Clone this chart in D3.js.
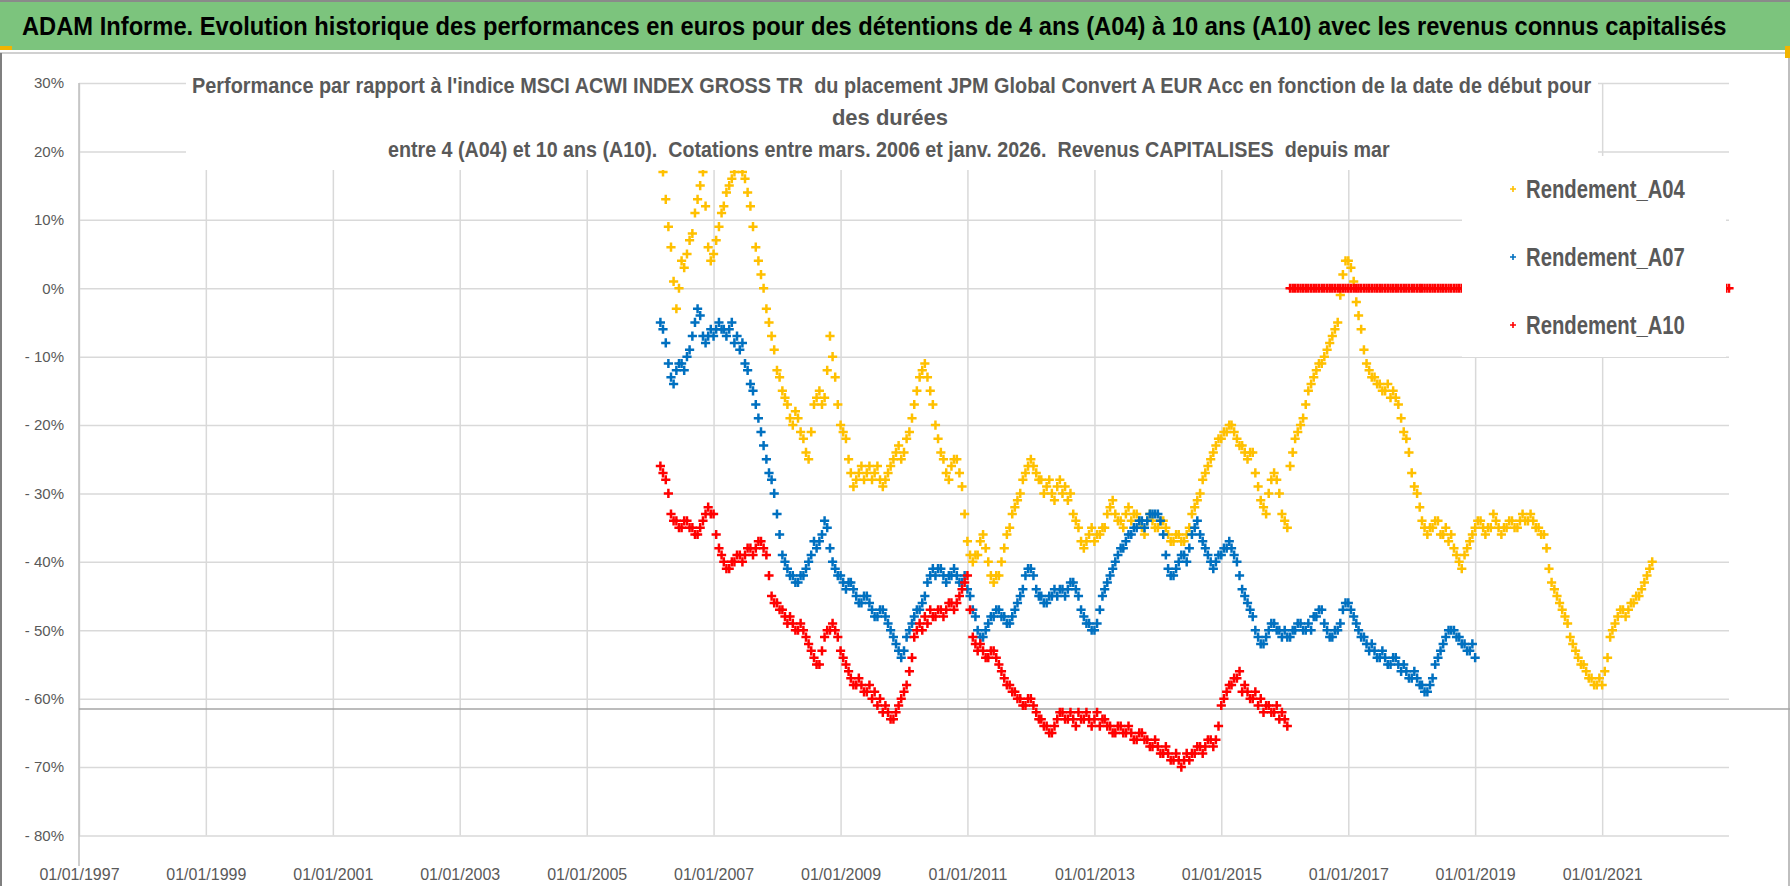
<!DOCTYPE html>
<html>
<head>
<meta charset="utf-8">
<script src="https://cdn.jsdelivr.net/npm/d3@7"></script>
<style>
  body { margin: 0; background: #ffffff; overflow: hidden; }
  svg { display: block; }
</style>
</head>
<body>
<div id="vis"></div>
<script>
// dimensions of the frame
const FRAME_WIDTH = 1790;
const FRAME_HEIGHT = 886;

// plot area inside the frame
const MARGINS = {left: 79, right: 61, top: 83, bottom: 50};
const VIS_WIDTH = FRAME_WIDTH - MARGINS.left - MARGINS.right;
const VIS_HEIGHT = 835.5 - MARGINS.top;

// texts
const HEADER = "ADAM Informe. Evolution historique des performances en euros pour des détentions de 4 ans (A04) à 10 ans (A10) avec les revenus connus capitalisés";
const TITLE_LINES = [
  "Performance par rapport à l'indice MSCI ACWI INDEX GROSS TR  du placement JPM Global Convert A EUR Acc en fonction de la date de début pour",
  "des durées",
  "entre 4 (A04) et 10 ans (A10).  Cotations entre mars. 2006 et janv. 2026.  Revenus CAPITALISES  depuis mar"
];
const SERIES_NAMES = ["Rendement_A04", "Rendement_A07", "Rendement_A10"];
const SERIES_COLORS = ["#FFC000", "#0070C0", "#FF0000"];

// axis ticks
const Y_TICKS = [30, 20, 10, 0, -10, -20, -30, -40, -50, -60, -70, -80];
const X_TICK_YEARS = [1997, 1999, 2001, 2003, 2005, 2007, 2009, 2011, 2013, 2015, 2017, 2019, 2021];

// values (%), two per month (1st and 16th),
// first month given by *_START, one row per year
const A04_START = "2006-03";
const A04 = [
  22, 17, 13, 9, 6, 1, -3, 0, 4, 3, 5, 7, 8, 11, 13, 15, 17, 12, 6, 4,
  5, 7, 9, 11, 12, 14, 15, 16, 17, 18, 19, 17, 16, 14, 12, 9, 6, 4, 2, 0, -3, -5, -7, -9,
  -12, -13, -15, -16, -17, -19, -20, -18, -19, -21, -22, -24, -25, -21, -17, -16, -15, -17, -16, -12, -7, -10, -13, -17,
  -20, -21, -22, -25, -27, -29, -28, -27, -26, -28, -27, -26, -28, -27, -26, -28, -29, -28, -27, -26, -25, -24, -23, -25,
  -24, -22, -21, -19, -17, -15, -13, -12, -11, -13, -15, -17, -20, -22, -24, -25, -27, -28, -26, -25, -25, -27, -29, -33,
  -37, -39, -40, -39, -39, -37, -36, -38, -40, -42, -43, -42, -42, -40, -38, -36, -35, -33, -32, -31, -30, -28, -27, -26,
  -25, -26, -27, -28, -28, -30, -29, -28, -30, -31, -29, -28, -30, -29, -31, -30, -33, -34, -35, -37, -38, -37, -36, -35,
  -37, -36, -36, -35, -35, -33, -32, -31, -33, -34, -34, -35, -33, -32, -34, -33, -33, -34, -35, -36, -34, -33, -34, -35,
  -35, -34, -34, -35, -36, -37, -37, -36, -36, -37, -37, -36, -35, -33, -32, -31, -30, -28, -27, -26, -25, -24, -23, -22,
  -22, -21, -21, -20, -20, -21, -22, -23, -23, -24, -25, -24, -24, -27, -29, -31, -32, -33, -30, -28, -27, -28, -30, -33,
  -34, -35, -26, -24, -22, -21, -20, -19, -17, -15, -14, -13, -12, -11, -11, -10, -9, -8, -7, -6, -5, -1, 2, 4,
  4, 3, 1, -2, -4, -6, -9, -11, -12, -13, -13, -14, -14, -15, -15, -14, -16, -15, -16, -17, -19, -21, -22, -24,
  -27, -29, -30, -32, -34, -35, -36, -35, -35, -34, -34, -36, -36, -35, -37, -36, -38, -39, -40, -41, -39, -38, -37, -36,
  -35, -34, -34, -35, -36, -35, -35, -33, -34, -35, -36, -35, -35, -34, -34, -35, -35, -34, -33, -34, -34, -33, -34, -35,
  -35, -36, -36, -38, -41, -43, -44, -45, -46, -47, -48, -49, -51, -52, -53, -54, -55, -55, -56, -57, -57, -58, -58, -57,
  -58, -56, -54, -51, -50, -49, -48, -47, -47, -48, -47, -46, -46, -45, -45, -44, -43, -42, -41, -40
];

const A07_START = "2006-03";
const A07 = [
  -5, -6, -8, -11, -13, -14, -12, -11, -11, -12, -10, -9, -7, -5, -3, -4, -7, -8, -7, -6,
  -7, -6, -5, -6, -6, -7, -6, -5, -8, -7, -9, -8, -11, -12, -14, -15, -17, -19, -21, -23, -25, -27, -28, -30,
  -33, -36, -39, -40, -41, -42, -42, -43, -43, -42, -42, -41, -40, -39, -37, -38, -37, -36, -34, -35, -38, -40, -41, -42,
  -42, -43, -44, -43, -43, -44, -45, -46, -46, -45, -45, -46, -47, -48, -48, -47, -47, -48, -49, -50, -51, -52, -53, -54,
  -53, -51, -50, -49, -48, -47, -47, -46, -45, -43, -42, -41, -42, -41, -41, -42, -43, -42, -42, -41, -42, -43, -43, -42,
  -44, -45, -47, -48, -50, -51, -51, -50, -49, -48, -48, -47, -47, -48, -48, -49, -49, -48, -47, -46, -45, -44, -42, -41,
  -41, -42, -44, -45, -45, -46, -46, -45, -45, -44, -45, -44, -44, -45, -44, -43, -43, -44, -45, -47, -48, -49, -49, -50,
  -50, -49, -47, -45, -44, -43, -42, -41, -40, -39, -38, -38, -37, -36, -36, -35, -35, -34, -34, -35, -34, -33, -33, -33,
  -33, -34, -36, -39, -41, -42, -42, -41, -40, -39, -39, -40, -38, -36, -35, -34, -36, -37, -38, -39, -40, -41, -40, -39,
  -39, -38, -38, -37, -38, -39, -40, -42, -44, -45, -46, -47, -48, -50, -51, -52, -52, -51, -50, -49, -49, -50, -50, -51,
  -50, -51, -51, -50, -50, -49, -49, -50, -50, -49, -50, -48, -48, -47, -47, -49, -50, -51, -51, -50, -50, -49, -47, -46,
  -46, -47, -48, -49, -50, -51, -51, -52, -53, -52, -53, -54, -54, -53, -54, -55, -55, -54, -54, -55, -56, -55, -56, -57,
  -57, -56, -57, -58, -58, -59, -59, -58, -57, -55, -54, -53, -52, -51, -50, -50, -50, -51, -51, -52, -52, -53, -53, -52,
  -54
];

const A10_START = "2006-03";
const A10 = [
  -26, -27, -28, -30, -33, -34, -34, -35, -35, -34, -34, -35, -35, -36, -36, -35, -34, -33, -32, -33,
  -33, -36, -38, -39, -40, -41, -41, -40, -40, -39, -39, -40, -39, -38, -38, -39, -38, -37, -37, -38, -39, -42, -45, -46,
  -46, -47, -47, -48, -49, -48, -49, -50, -50, -49, -50, -51, -52, -53, -54, -55, -55, -53, -51, -50, -50, -49, -50, -51,
  -53, -54, -55, -56, -57, -58, -58, -57, -58, -59, -59, -58, -60, -59, -61, -60, -62, -61, -62, -63, -63, -62, -61, -60,
  -59, -58, -56, -54, -51, -50, -49, -50, -48, -49, -47, -48, -48, -47, -47, -48, -47, -46, -46, -47, -46, -45, -44, -43,
  -42, -47, -51, -52, -53, -52, -53, -54, -54, -53, -53, -54, -55, -56, -57, -58, -58, -59, -59, -60, -60, -61, -61, -60,
  -60, -61, -62, -63, -63, -64, -64, -65, -65, -64, -63, -62, -62, -63, -63, -62, -63, -64, -62, -63, -63, -62, -63, -64,
  -63, -62, -64, -63, -63, -64, -64, -65, -65, -64, -64, -65, -65, -64, -65, -66, -66, -65, -65, -66, -66, -67, -67, -66,
  -67, -68, -68, -67, -68, -69, -69, -68, -69, -70, -69, -68, -69, -68, -68, -67, -67, -68, -67, -66, -66, -67, -66, -64,
  -61, -60, -59, -58, -58, -57, -57, -56, -59, -58, -59, -60, -60, -59, -61, -60, -62, -61, -61, -62, -62, -61, -63, -62,
  -63, -64,
  // no 10-year return after Jan. 2016: plotted at 0 up to Jan. 2023
  0, 0, 0, 0, 0, 0, 0, 0, 0, 0, 0, 0, 0, 0, 0, 0, 0, 0, 0, 0, 0, 0,
  0, 0, 0, 0, 0, 0, 0, 0, 0, 0, 0, 0, 0, 0, 0, 0, 0, 0, 0, 0, 0, 0, 0, 0,
  0, 0, 0, 0, 0, 0, 0, 0, 0, 0, 0, 0, 0, 0, 0, 0, 0, 0, 0, 0, 0, 0, 0, 0,
  0, 0, 0, 0, 0, 0, 0, 0, 0, 0, 0, 0, 0, 0, 0, 0, 0, 0, 0, 0, 0, 0, 0, 0,
  0, 0, 0, 0, 0, 0, 0, 0, 0, 0, 0, 0, 0, 0, 0, 0, 0, 0, 0, 0, 0, 0, 0, 0,
  0, 0, 0, 0, 0, 0, 0, 0, 0, 0, 0, 0, 0, 0, 0, 0, 0, 0, 0, 0, 0, 0, 0, 0,
  0, 0, 0, 0, 0, 0, 0, 0, 0, 0, 0, 0, 0, 0, 0, 0, 0, 0, 0, 0, 0, 0, 0, 0,
  0
];

const parseMonth = d3.timeParse("%Y-%m");

// turns a start month and half-monthly values into points
function toPoints(start, values) {
  const first = parseMonth(start);
  return values.map((v, i) => ({
    date: d3.timeDay.offset(d3.timeMonth.offset(first, Math.floor(i / 2)), (i % 2) * 15),
    value: v
  }));
}

const SERIES = [toPoints(A04_START, A04), toPoints(A07_START, A07), toPoints(A10_START, A10)];

// squeezes a text horizontally to a given width (narrow bold look)
function fitText(sel, x, y, width) {
  const len = sel.node().getComputedTextLength();
  sel.attr("transform", "translate(" + x + "," + y + ") scale(" + (width / len) + ",1)");
}

// svg frame
const FRAME = d3.select("#vis")
  .append("svg")
  .attr("width", FRAME_WIDTH)
  .attr("height", FRAME_HEIGHT)
  .attr("font-family", "'Liberation Sans', Arial, sans-serif");

// green header band
FRAME.append("rect")
  .attr("x", 0).attr("y", 0)
  .attr("width", FRAME_WIDTH).attr("height", 50)
  .attr("fill", "#7cc47d");
FRAME.append("line")
  .attr("x1", 0).attr("x2", FRAME_WIDTH)
  .attr("y1", 1).attr("y2", 1)
  .attr("stroke", "#8a8a8a").attr("stroke-width", 2);
const header = FRAME.append("text")
  .attr("font-size", 26).attr("font-weight", "bold")
  .attr("fill", "#000000")
  .text(HEADER);
fitText(header, 22, 35, 1705);

// chart frame borders
FRAME.append("line")
  .attr("x1", 0).attr("x2", FRAME_WIDTH)
  .attr("y1", 53).attr("y2", 53)
  .attr("stroke", "#d0d0d0").attr("stroke-width", 2);
FRAME.append("line")
  .attr("x1", 1).attr("x2", 1)
  .attr("y1", 53).attr("y2", FRAME_HEIGHT)
  .attr("stroke", "#7f7f7f").attr("stroke-width", 2);
FRAME.append("line")
  .attr("x1", FRAME_WIDTH - 1).attr("x2", FRAME_WIDTH - 1)
  .attr("y1", 53).attr("y2", FRAME_HEIGHT)
  .attr("stroke", "#bfbfbf").attr("stroke-width", 2);
// selection handles
FRAME.append("rect").attr("x", 0).attr("y", 46).attr("width", 12).attr("height", 4).attr("fill", "#f2b400");
FRAME.append("rect").attr("x", FRAME_WIDTH - 5).attr("y", 46).attr("width", 5).attr("height", 12).attr("fill", "#f2b400");

// scales
const X_SCALE = d3.scaleTime()
  .domain([new Date(1997, 0, 1), new Date(2023, 0, 1)])
  .range([MARGINS.left, MARGINS.left + VIS_WIDTH]);

const Y_SCALE = d3.scaleLinear()
  .domain([-80, 30])
  .range([MARGINS.top + VIS_HEIGHT, MARGINS.top]);

// horizontal grid lines + y labels
const yAxis = FRAME.append("g")
  .attr("transform", "translate(" + MARGINS.left + ",0)")
  .call(d3.axisLeft(Y_SCALE)
    .tickValues(Y_TICKS)
    .tickSize(-VIS_WIDTH)
    .tickPadding(15)
    .tickFormat((d) => d < 0 ? "- " + (-d) + "%" : d + "%"));
yAxis.select(".domain").remove();
yAxis.selectAll("line").attr("stroke", "#d9d9d9").attr("stroke-width", 1.5);
yAxis.selectAll("text")
  .attr("font-family", "'Liberation Sans', Arial, sans-serif")
  .attr("font-size", 15).attr("fill", "#595959");

// vertical grid lines + x labels
const xAxis = FRAME.append("g")
  .attr("transform", "translate(0," + (MARGINS.top + VIS_HEIGHT) + ")")
  .call(d3.axisBottom(X_SCALE)
    .tickValues(X_TICK_YEARS.map((y) => new Date(y, 0, 1)))
    .tickSize(-VIS_HEIGHT)
    .tickPadding(33)
    .tickFormat(d3.timeFormat("%d/%m/%Y")));
xAxis.select(".domain").remove();
xAxis.selectAll("line").attr("stroke", "#d9d9d9").attr("stroke-width", 1.5);
xAxis.selectAll("text")
  .attr("font-family", "'Liberation Sans', Arial, sans-serif")
  .attr("font-size", 16).attr("fill", "#595959");

// vertical axis line
FRAME.append("line")
  .attr("x1", MARGINS.left).attr("x2", MARGINS.left)
  .attr("y1", MARGINS.top).attr("y2", 866)
  .attr("stroke", "#bfbfbf").attr("stroke-width", 1.5);

// stray line across the chart
FRAME.append("line")
  .attr("x1", MARGINS.left).attr("x2", FRAME_WIDTH)
  .attr("y1", 709).attr("y2", 709)
  .attr("stroke", "#a6a6a6").attr("stroke-width", 1.5);

// "+" markers
const PLUS = "M-4.6,0H4.6M0,-4.6V4.6";
FRAME.append("clipPath").attr("id", "plot-clip")
  .append("rect")
  .attr("x", MARGINS.left).attr("y", MARGINS.top)
  .attr("width", VIS_WIDTH + 5).attr("height", VIS_HEIGHT);

SERIES.forEach((points, s) => {
  FRAME.append("g")
    .attr("clip-path", "url(#plot-clip)")
    .selectAll("path")
    .data(points)
    .enter()
    .append("path")
      .attr("d", PLUS)
      .attr("transform", (d) => "translate(" + X_SCALE(d.date) + "," + Y_SCALE(d.value) + ")")
      .attr("stroke", SERIES_COLORS[s])
      .attr("stroke-width", 2.5)
      .attr("fill", "none");
});

// chart title with white background
FRAME.append("rect")
  .attr("x", 186).attr("y", 62)
  .attr("width", 1412).attr("height", 108)
  .attr("fill", "#ffffff");
const TITLE_X = [192, 890, 388];
const TITLE_LEN = [1400, 0, 1002];
const TITLE_Y = [93, 125, 157];
TITLE_LINES.forEach((line, i) => {
  const t = FRAME.append("text")
    .attr("font-size", 22).attr("font-weight", "bold")
    .attr("fill", "#595959")
    .style("white-space", "pre")
    .text(line);
  if (TITLE_LEN[i] > 0) {
    fitText(t, TITLE_X[i], TITLE_Y[i], TITLE_LEN[i]);
  } else {
    t.attr("x", TITLE_X[i]).attr("y", TITLE_Y[i]).attr("text-anchor", "middle");
  }
});

// legend with white background
FRAME.append("rect")
  .attr("x", 1462).attr("y", 156)
  .attr("width", 264).attr("height", 201)
  .attr("fill", "#ffffff");
const LEGEND_Y = [189, 257, 325];
SERIES_NAMES.forEach((name, i) => {
  FRAME.append("path")
    .attr("d", "M-3,0H3M0,-3V3")
    .attr("transform", "translate(1513," + LEGEND_Y[i] + ")")
    .attr("stroke", SERIES_COLORS[i])
    .attr("stroke-width", 1.6);
  const t = FRAME.append("text")
    .attr("font-size", 25).attr("font-weight", "bold")
    .attr("fill", "#595959")
    .text(name);
  fitText(t, 1526, LEGEND_Y[i] + 9, 159);
});
</script>
</body>
</html>
